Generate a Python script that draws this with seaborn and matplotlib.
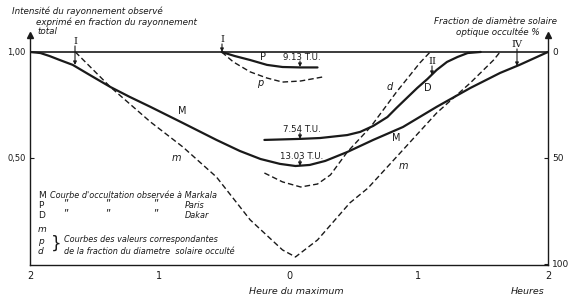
import matplotlib
matplotlib.use("Agg")
import matplotlib.pyplot as plt
import pandas as pd
import seaborn as sns

# ---- data (hours from maximum, intensity fraction / occulted diameter %) ----
hours_M = [-2.00, -1.92, -1.85, -1.77, -1.67, -1.54, -1.38, -1.23, -1.07, -0.82,
           -0.56, -0.38, -0.22, -0.07, 0.05, 0.16, 0.28, 0.45, 0.65, 0.88,
           1.14, 1.40, 1.63, 1.78, 2.00]
intensity_M = [1.000, 0.995, 0.981, 0.962, 0.939, 0.892, 0.835, 0.788, 0.741, 0.665,
               0.585, 0.533, 0.495, 0.472, 0.462, 0.467, 0.486, 0.528, 0.585, 0.646,
               0.741, 0.830, 0.901, 0.939, 1.000]

hours_P = [-0.52, -0.42, -0.30, -0.17, -0.05, 0.09, 0.22]
intensity_P = [1.000, 0.981, 0.962, 0.939, 0.929, 0.927, 0.927]

hours_D = [-0.19, 0.09, 0.24, 0.45, 0.55, 0.65, 0.76, 0.83, 0.91, 0.99,
           1.07, 1.14, 1.22, 1.30, 1.38, 1.48]
intensity_D = [0.585, 0.590, 0.594, 0.608, 0.623, 0.651, 0.693, 0.736, 0.783, 0.830,
               0.873, 0.915, 0.953, 0.976, 0.995, 1.000]

hours_m = [-1.65, -1.38, -1.07, -0.82, -0.56, -0.30, -0.05, 0.05, 0.22, 0.47,
           0.61, 0.88, 1.14, 1.40, 1.58, 1.63]
occult_m = [0.0, 16.5, 33.0, 44.8, 59.0, 79.2, 93.4, 96.7, 88.7, 71.2,
            64.2, 46.2, 28.8, 14.6, 3.8, 0.0]

hours_p = [-0.52, -0.43, -0.30, -0.17, -0.05, 0.09, 0.26]
occult_p = [0.0, 4.7, 9.4, 12.3, 14.2, 13.7, 11.8]

hours_d = [-0.19, -0.05, 0.09, 0.22, 0.32, 0.45, 0.63, 0.83, 1.01, 1.09]
occult_d = [57.1, 61.3, 63.7, 62.3, 58.0, 47.2, 35.4, 18.9, 5.2, 0.0]

x_ticks = [-2, -1, 0, 1, 2]
x_tick_labels = ["2", "1", "0", "1", "2"]
left_ticks = [1.0, 0.5]
left_tick_labels = ["1,00", "0,50"]
right_ticks = [0, 50, 100]
right_tick_labels = ["0", "50", "100"]

sns.set_theme(style="white")
plt.rcParams["font.family"] = ["DejaVu Sans"]

W, H = 569, 299
fig = plt.figure(figsize=(W / 100, H / 100), dpi=100)
fig.patch.set_facecolor("white")


def px(x, y):
    return x / W, 1 - y / H


ax = fig.add_axes([30 / W, 1 - 265 / H, 518 / W, 230 / H])
ax.set_facecolor("none")
ax.set_xlim(-2, 2)
ax.set_ylim(-0.005, 1.08)
ax2 = ax.twinx()
ax2.set_ylim(100.5, -8.0)

ink = "#1a1a1a"
solid_kw = dict(color=ink, lw=1.6, sort=False, estimator=None)
dash_kw = dict(color=ink, lw=1.0, sort=False, estimator=None)

sns.lineplot(data=pd.DataFrame({"h": hours_M, "v": intensity_M}), x="h", y="v", ax=ax, **solid_kw)
sns.lineplot(data=pd.DataFrame({"h": hours_P, "v": intensity_P}), x="h", y="v", ax=ax, **solid_kw)
sns.lineplot(data=pd.DataFrame({"h": hours_D, "v": intensity_D}), x="h", y="v", ax=ax, **solid_kw)
for hh, vv in [(hours_m, occult_m), (hours_p, occult_p), (hours_d, occult_d)]:
    l = sns.lineplot(data=pd.DataFrame({"h": hh, "v": vv}), x="h", y="v", ax=ax2, **dash_kw)
    l.lines[-1].set_dashes([4, 2.2])

ax.axhline(1.0, color=ink, lw=1.2)

# spines
for a in (ax, ax2):
    a.spines["top"].set_visible(False)
for s in ("left", "right", "top", "bottom"):
    ax2.spines[s].set_visible(False)
for s in ("left", "right", "bottom"):
    ax.spines[s].set_color(ink)
    ax.spines[s].set_linewidth(1.0)
ax.plot([-2, 2], [1.08, 1.08], ls="none", marker="^", ms=4, color=ink, clip_on=False)

ax.set_xlabel("")
ax.set_ylabel("")
ax2.set_ylabel("")
ax.set_xticks(x_ticks)
ax.set_xticklabels(x_tick_labels)
ax.set_yticks(left_ticks)
ax.set_yticklabels(left_tick_labels)
ax2.set_yticks(right_ticks)
ax2.set_yticklabels(right_tick_labels)
ax.tick_params(axis="x", direction="in", length=3, width=0.8, color=ink, labelsize=7, pad=4, labelcolor=ink)
ax.tick_params(axis="y", direction="in", length=3, width=0.8, color=ink, labelsize=6, pad=3, labelcolor=ink)
ax2.tick_params(axis="y", direction="in", length=3, width=0.8, color=ink, labelsize=6.5, pad=3, labelcolor=ink)
ax2.tick_params(axis="x", length=0)

it = dict(style="italic", color=ink)

# axis titles
fig.text(*px(12, 11), "Intensité du rayonnement observé", fontsize=6.3, va="center", ha="left", **it)
fig.text(*px(36, 22), "exprimé en fraction du rayonnement", fontsize=6.3, va="center", ha="left", **it)
fig.text(*px(37, 32), "total", fontsize=6.3, va="center", ha="left", **it)
fig.text(*px(557, 21), "Fraction de diamètre solaire", fontsize=6.3, va="center", ha="right", **it)
fig.text(*px(540, 32), "optique occultée %", fontsize=6.3, va="center", ha="right", **it)
fig.text(*px(296, 292), "Heure du maximum", fontsize=6.8, va="center", ha="center", **it)
fig.text(*px(528, 292), "Heures", fontsize=6.8, va="center", ha="center", **it)

# curve labels
for (x, y, s, st) in [(182, 111, "M", "normal"), (396, 138, "M", "normal"),
                      (176, 158, "m", "italic"), (403, 166, "m", "italic"),
                      (263, 57, "P", "normal"), (260, 83, "p", "italic"),
                      (428, 88, "D", "normal"), (390, 87, "d", "italic")]:
    fig.text(*px(x, y), s, fontsize=7, ha="center", va="center", color=ink, style=st)


# event arrows
def h(xp):
    return (xp - 289) / 129.5


def yi(yp):
    return (264 - yp) / 212


arrow = dict(arrowstyle="-|>", lw=0.8, color=ink, mutation_scale=5, shrinkA=0, shrinkB=0)
for (xp, yt, ytip, lab) in [(75, 42, 65, "I"), (222, 40, 52, "I"), (432, 62, 75, "II"), (517, 45, 66, "IV")]:
    ax.annotate("", xy=(h(xp), yi(ytip)), xytext=(h(xp), yi(yt + 4)), arrowprops=arrow)
    ax.text(h(xp), yi(yt), lab, fontsize=7, ha="center", va="center", color=ink, family="DejaVu Serif")

# time of maximum labels
for (yt, ytip, lab) in [(58, 67, "9.13 T.U."), (130, 139, "7.54 T.U."), (157, 166, "13.03 T.U.")]:
    ax.annotate("", xy=(h(300), yi(ytip)), xytext=(h(300), yi(yt + 3)), arrowprops=arrow)
    ax.text(h(302), yi(yt), lab, fontsize=6.2, ha="center", va="center", color=ink)

# legend block
fs = 5.9
fig.text(*px(38, 195), "M", fontsize=6.5, va="center", color=ink)
fig.text(*px(50, 195), "Courbe d'occultation observée à Markala", fontsize=fs, va="center", **it)
fig.text(*px(38, 205), "P", fontsize=6.5, va="center", color=ink)
fig.text(*px(38, 215), "D", fontsize=6.5, va="center", color=ink)
for yy in (203, 213):
    for xx in (63, 105, 153):
        fig.text(*px(xx, yy), "\u201d", fontsize=7, va="center", color=ink)
fig.text(*px(185, 205), "Paris", fontsize=fs, va="center", **it)
fig.text(*px(185, 215), "Dakar", fontsize=fs, va="center", **it)
fig.text(*px(38, 229), "m", fontsize=6.5, va="center", color=ink, style="italic")
fig.text(*px(38, 241), "p", fontsize=6.5, va="center", color=ink, style="italic")
fig.text(*px(38, 251), "d", fontsize=6.5, va="center", color=ink, style="italic")
fig.text(*px(51, 244), "}", fontsize=12, va="center", color=ink)
fig.text(*px(64, 240), "Courbes des valeurs correspondantes", fontsize=fs, va="center", **it)
fig.text(*px(64, 251), "de la fraction du diametre  solaire occulté", fontsize=fs, va="center", **it)

fig.savefig("out.png", dpi=100, facecolor="white")
